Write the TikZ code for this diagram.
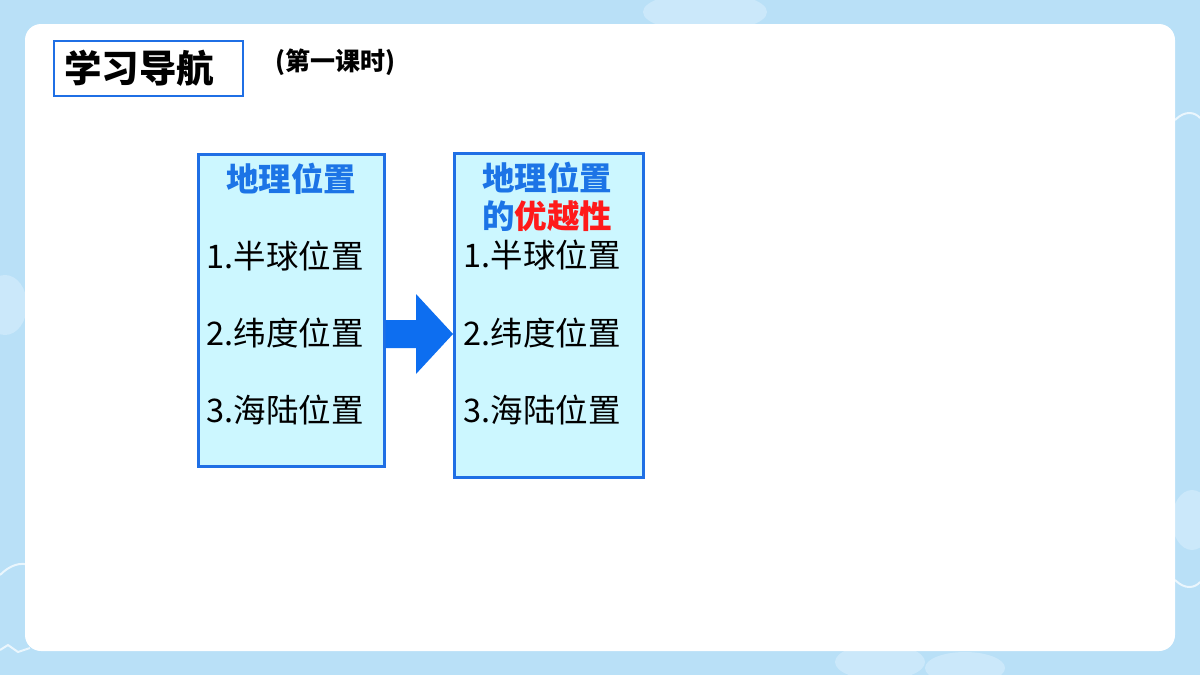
\documentclass[tikz,border=0pt]{standalone}
\usepackage{fontspec}
\setmainfont{Noto Sans CJK SC}
\definecolor{bgblue}{HTML}{B9E0F7}
\definecolor{cloud}{HTML}{CBE8FA}
\definecolor{frameblue}{HTML}{1F6FE5}
\definecolor{titleblue}{HTML}{1C74E6}
\definecolor{boxfill}{HTML}{CCF7FF}
\definecolor{arrowblue}{HTML}{0D6EF0}
\definecolor{hotred}{HTML}{FF1A1A}
\tikzset{
  listbox/.style={draw=frameblue, line width=2.5pt, fill=boxfill, anchor=north west},
  boxtitle/.style={font=\fontsize{32.5}{38}\selectfont\bfseries, text=titleblue, align=center},
  item/.style={font=\fontsize{32.5}{36}\selectfont, text=black, anchor=west},
  cloudshape/.style={fill=cloud},
  cloudline/.style={draw=white!70!bgblue, line width=2pt}
}
\begin{document}
\begin{tikzpicture}[x=1pt,y=-1pt]
\useasboundingbox (0,0) rectangle (1200,675);
\fill[bgblue] (0,0) rectangle (1200,675);
% faint clouds
\fill[cloudshape] (705,12) ellipse (62 and 20);
\fill[cloudshape] (880,662) ellipse (45 and 18);
\fill[cloudshape] (965,668) ellipse (40 and 16);
\fill[cloudshape] (5,305) ellipse (22 and 30);
\fill[cloudshape] (1192,520) ellipse (20 and 30);
\draw[cloudline] (628,30) arc (180:90:22) arc (160:20:22) arc (90:0:20);
\draw[cloudline] (0,575) .. controls (10,565) and (20,562) .. (30,565);
\draw[cloudline] (1175,120) .. controls (1185,110) and (1195,112) .. (1200,118);
\draw[cloudline] (1175,580) .. controls (1185,590) and (1195,588) .. (1200,582);
\draw[cloudline] (0,650) -- (8,645) -- (18,652) -- (30,648);
\fill[white!40!bgblue] (345,37) -- (348,30) -- (351,37) -- (358,40) -- (351,43) -- (348,50) -- (345,43) -- (338,40) -- cycle;
% white panel
\fill[white, rounded corners=16] (25,24) rectangle (1175,651);
% header
\node[draw=frameblue, line width=2.2pt, anchor=north west, minimum width=189, minimum height=55,
      text width=169, inner xsep=10, align=left,
      font=\fontsize{37.5}{40}\selectfont\bfseries] (nav) at (53,40) {学习导航};
\node[anchor=west, font=\fontsize{25}{28}\selectfont\bfseries, inner sep=0] (lesson) at (275,62) {(第一课时)};
% left box
\node[listbox, minimum width=186, minimum height=312] (box1) at (197,153) {};
\node[boxtitle] (t1) at (291,179) {地理位置};
\node[item] (a1) at (203,256) {1.半球位置};
\node[item] (a2) at (203,333) {2.纬度位置};
\node[item] (a3) at (203,410) {3.海陆位置};
% right box
\node[listbox, minimum width=189, minimum height=324] (box2) at (453,152) {};
\node[boxtitle] (t2) at (547,197) {地理位置\\的\textcolor{hotred}{优越性}};
\node[item] (b1) at (460,255) {1.半球位置};
\node[item] (b2) at (460,333) {2.纬度位置};
\node[item] (b3) at (460,410) {3.海陆位置};
% arrow connector
\fill[arrowblue] (box1.east |- 0,320) -- (416,320) -- (416,294) -- (box2.west |- 0,334)
  -- (416,374) -- (416,348) -- (box1.east |- 0,348) -- cycle;
\end{tikzpicture}
\end{document}
